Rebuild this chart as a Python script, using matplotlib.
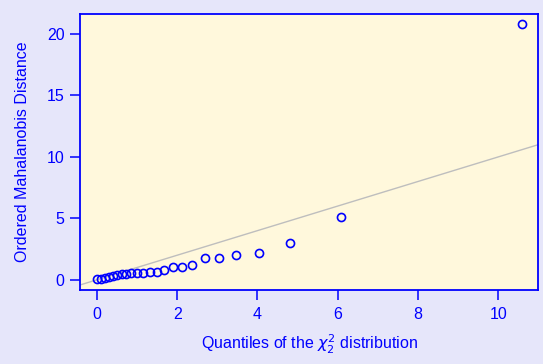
import numpy as np
import matplotlib
matplotlib.use("Agg")
from matplotlib import pyplot as plt

# chi-square quantiles (x) and ordered Mahalanobis distances (y)
chisq_quantiles = [0.01, 0.10, 0.20, 0.29, 0.40, 0.50, 0.62, 0.72, 0.85, 0.99,
                   1.14, 1.31, 1.49, 1.68, 1.89, 2.12, 2.38, 2.68, 3.03, 3.46,
                   4.03, 4.80, 6.07, 10.58]
mahal_dist = [0.03, 0.10, 0.18, 0.25, 0.32, 0.40, 0.49, 0.51, 0.54, 0.57,
              0.59, 0.62, 0.65, 0.76, 1.05, 1.08, 1.19, 1.75, 1.78, 2.00,
              2.21, 2.98, 5.10, 20.80]
x_ticks = [0, 2, 4, 6, 8, 10]
y_ticks = [0, 5, 10, 15, 20]

blue = "#0000FF"
plt.rcParams['font.family'] = ['Liberation Sans', 'DejaVu Sans']
plt.rcParams['mathtext.fontset'] = 'dejavusans'

fig = plt.figure(figsize=(5.43, 3.64), dpi=100, facecolor="#E6E6FA")
ax = fig.add_axes([0.1473, 0.2033, 0.8444, 0.7582])
ax.set_facecolor("#FFF8DC")

xmax, ymax = max(chisq_quantiles), max(mahal_dist)
xpad, ypad = 0.04 * xmax, 0.04 * ymax
ax.set_xlim(-xpad, xmax + xpad)
ax.set_ylim(-ypad, ymax + ypad)

ax.plot([-xpad, xmax + xpad], [-xpad, xmax + xpad], color="#BEBEBE", lw=1, zorder=1)
ax.plot(chisq_quantiles, mahal_dist, "o", mfc="none", mec=blue, mew=1.2, ms=5.8, zorder=2)

ax.set_xticks(x_ticks)
ax.set_yticks(y_ticks)
ax.tick_params(colors=blue, labelcolor=blue, direction="out", length=7, width=1.1,
               labelsize=11.5, pad=5)
ax.tick_params(axis="y", pad=4)
for s in ax.spines.values():
    s.set_color(blue)
    s.set_linewidth(1.3)

ax.set_xlabel(r"Quantiles of the $\chi_2^2$ distribution", color=blue, fontsize=11.5, labelpad=8)
ax.set_ylabel("Ordered Mahalanobis Distance", color=blue, fontsize=11.5, labelpad=12)

fig.savefig("out.png", dpi=100, facecolor=fig.get_facecolor())
